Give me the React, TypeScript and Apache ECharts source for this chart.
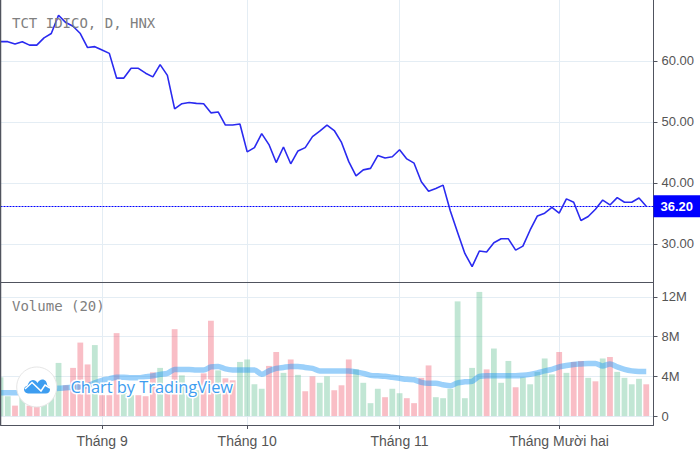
import React, { useEffect, useRef } from "react";
import * as echarts from "echarts";

const categories: string[] = Array.from({ length: 91 }, (_, i) => String(i));
const monthIndex = [14, 34, 55, 77];
const monthLabels = ["Tháng 9", "Tháng 10", "Tháng 11", "Tháng Mười hai"];

const prices = [
  63.17, 63.17, 62.8, 63.17, 62.6, 62.6, 63.8, 64.5, 67.5, 66.3,
  65.7, 64.5, 62.2, 62.35, 61.8, 61.25, 57.2, 57.2, 58.8, 58.8,
  58.0, 57.4, 59.4, 57.65, 52.15, 53.0, 53.2, 53.05, 53.0, 51.5,
  51.65, 49.5, 49.5, 49.67, 45.1, 45.8, 48.1, 46.3, 43.35, 45.9,
  43.15, 45.25, 45.8, 47.6, 48.5, 49.5, 48.6, 46.65, 43.5, 41.15,
  42.15, 42.4, 44.5, 44.1, 44.3, 45.45, 43.95, 43.25, 40.2, 38.65,
  39.1, 39.65, 35.4, 31.9, 28.45, 26.3, 28.85, 28.7, 30.2, 30.85,
  30.85, 29.0, 29.65, 32.3, 34.6, 35.05, 36.0, 35.05, 37.4, 36.85,
  33.85, 34.5, 35.7, 37.2, 36.4, 37.6, 36.85, 36.85, 37.55, 36.2,
];

const lastPrice = 36.2;

const volumes = [
  3.9, 2.0, 1.05, 1.95, 1.05, 0.95, 1.8, 2.6, 5.35, 3.1,
  4.85, 7.4, 5.2, 7.15, 2.1, 2.1, 8.35, 2.3, 2.1, 2.1,
  2.0, 4.4, 4.85, 2.6, 8.75, 4.1, 2.3, 2.6, 4.3, 9.6,
  4.6, 3.8, 3.6, 5.45, 5.7, 3.2, 2.75, 5.05, 6.45, 4.35,
  5.7, 4.15, 2.5, 4.0, 3.35, 4.0, 2.6, 3.1, 5.7, 4.7,
  3.35, 1.3, 2.75, 1.9, 2.75, 2.3, 1.8, 1.3, 3.85, 5.1,
  1.9, 1.8, 2.75, 11.55, 1.8, 4.85, 12.5, 4.7, 6.8, 3.35,
  5.55, 2.9, 3.9, 3.2, 4.45, 5.8, 4.2, 6.45, 4.35, 5.45,
  5.55, 3.85, 3.5, 5.8, 5.95, 4.45, 3.85, 3.2, 3.75, 3.2,
];

const directions = [
  "g","g","p","g","p","p","g","g","g","p","p","p","p","g","p","p","p","g","g","p",
  "p","p","g","p","p","g","g","g","p","p","g","p","p","g","g","g","g","p","p","g",
  "p","g","p","p","g","g","p","p","p","g","g","g","g","p","g","g","p","p","p","p",
  "g","g","g","g","g","g","g","p","g","g","g","p","g","g","g","g","g","p","g","p",
  "p","g","p","g","p","g","g","g","g","p",
];

const volumeMA = [
  2.35, 2.35, 2.35, 2.4, 2.45, 2.5, 2.6, 2.7, 2.8, 2.85,
  2.9, 2.95, 3.05, 3.35, 3.6, 3.75, 3.9, 3.9, 3.85, 3.85,
  3.95, 4.05, 4.2, 4.3, 4.7, 4.7, 4.7, 4.65, 4.65, 4.95,
  5.0, 4.75, 4.65, 4.65, 4.65, 4.65, 4.2, 4.55, 4.8, 4.9,
  5.0, 5.0, 4.9, 4.8, 4.55, 4.55, 4.55, 4.55, 4.55, 4.45,
  4.3, 4.1, 4.05, 4.0, 3.9, 3.8, 3.7, 3.65, 3.4, 3.3,
  3.3, 3.15, 3.05, 3.35, 3.45, 3.5, 4.0, 4.05, 4.05, 4.05,
  4.05, 4.05, 4.1, 4.2, 4.35, 4.55, 4.7, 4.95, 5.1, 5.2,
  5.25, 5.3, 5.3, 5.05, 5.25, 4.95, 4.7, 4.55, 4.5, 4.5,
];

const priceTicks = [30, 40, 50, 60];
const volumeTicks = [0, 4, 8, 12];
const titleText = "TCT IDICO, D, HNX";
const volumeTitle = "Volume (20)";
const watermark = "Chart by TradingView";

const AXIS = "#50535e";
const GRID = "#e4edf4";
const LABEL = "#555";
const isMonth = (i: number) => monthIndex.includes(i);

const cloudPath =
  "M4 14.5C1.8 14.5 0 12.8 0 10.6C0 8.6 1.5 7 3.4 6.8C4.4 3.4 6.4 1 8.8 1C10.8 1 12.4 2.2 13.6 4C14.6 2 16.4 0.6 18.4 0.6C21.2 0.6 23 3 23.2 6.2C25 6.8 26 8.4 26 10.4C26 12.8 24.2 14.5 22 14.5Z";

echarts.graphic.registerShape("tvcloud", echarts.graphic.extendPath(cloudPath, {}) as any);

export default function App() {
  const ref = useRef<HTMLDivElement>(null);
  useEffect(() => {
    if (!ref.current) return;
    const chart = echarts.init(ref.current, undefined, { renderer: "svg" });
    const catAxisCommon = {
      type: "category",
      data: categories,
      boundaryGap: false,
      axisLine: { show: true, onZero: false, lineStyle: { color: AXIS, width: 1 } },
      splitLine: { show: true, interval: (i: number) => isMonth(i), lineStyle: { color: GRID, width: 1 } },
    };
    chart.setOption({
      animation: false,
      backgroundColor: "#fff",
      grid: [
        { left: 0.5, top: 0, width: 653, height: 282, containLabel: false },
        { left: 0.5, top: 283, width: 653, height: 142, containLabel: false },
      ],
      xAxis: [
        {
          ...catAxisCommon,
          gridIndex: 0,
          axisTick: { show: false },
          axisLabel: { show: false },
        },
        {
          ...catAxisCommon,
          gridIndex: 1,
          axisTick: { show: true, length: 4, interval: (i: number) => isMonth(i), lineStyle: { color: AXIS } },
          axisLabel: {
            show: true,
            interval: (i: number) => isMonth(i),
            formatter: (_v: string, i: number) => monthLabels[monthIndex.indexOf(i)] ?? "",
            color: LABEL,
            fontFamily: "Liberation Sans",
            fontSize: 14,
            margin: 9,
          },
        },
      ],
      yAxis: [
        {
          type: "value",
          gridIndex: 0,
          position: "right",
          min: 23.77,
          max: 70,
          axisLine: { show: true, lineStyle: { color: AXIS } },
          axisTick: { show: true, length: 4, customValues: priceTicks, lineStyle: { color: AXIS } },
          axisLabel: {
            customValues: priceTicks,
            formatter: (v: number) => v.toFixed(2),
            color: LABEL,
            fontFamily: "Liberation Sans",
            fontSize: 13,
            margin: 8,
          },
          splitLine: { show: true, lineStyle: { color: GRID, width: 1 } },
        },
        {
          type: "value",
          gridIndex: 1,
          position: "right",
          min: -0.9,
          max: 13.4,
          axisLine: { show: true, lineStyle: { color: AXIS } },
          axisTick: { show: true, length: 4, customValues: volumeTicks, lineStyle: { color: AXIS } },
          axisLabel: {
            customValues: volumeTicks,
            formatter: (v: number) => (v === 0 ? "0" : `${v}M`),
            color: LABEL,
            fontFamily: "Liberation Sans",
            fontSize: 13,
            margin: 8,
          },
          splitLine: { show: true, lineStyle: { color: GRID, width: 1 } },
        },
      ],
      series: [
        {
          type: "line",
          name: "Price",
          xAxisIndex: 0,
          yAxisIndex: 0,
          data: prices,
          showSymbol: false,
          symbol: "none",
          lineStyle: { color: "#2a2af0", width: 1.6 },
          z: 5,
          markLine: {
            silent: true,
            symbol: "none",
            animation: false,
            lineStyle: { color: "#0000ff", type: [2, 1], width: 1.2 },
            label: {
              show: true,
              position: "end",
              distance: 0,
              formatter: () => lastPrice.toFixed(2),
              color: "#fff",
              fontWeight: "bold",
              fontFamily: "Liberation Sans",
              fontSize: 13,
              backgroundColor: "#0000ff",
              padding: [5, 10, 4, 7],
              align: "left",
            },
            data: [{ yAxis: lastPrice }],
          },
        },
        {
          type: "bar",
          name: "Volume",
          xAxisIndex: 1,
          yAxisIndex: 1,
          barWidth: 5.8,
          data: volumes.map((v, i) => ({
            value: v,
            itemStyle: { color: directions[i] === "g" ? "rgba(83,185,135,0.36)" : "rgba(240,80,100,0.37)" },
          })),
          z: 2,
        },
        {
          type: "line",
          name: "Volume MA",
          xAxisIndex: 1,
          yAxisIndex: 1,
          data: volumeMA,
          symbol: "none",
          smooth: 0.3,
          lineStyle: { color: "rgba(33,150,243,0.45)", width: 5.5 },
          z: 3,
        },
      ],
      graphic: [
        { type: "line", z: 10, shape: { x1: 0.5, y1: 0, x2: 0.5, y2: 425 }, style: { stroke: AXIS, lineWidth: 1.5 } },
        { type: "text", z: 10, left: 12, top: 16, style: { text: titleText, fill: "#808080", font: "14px 'DejaVu Sans Mono'" } },
        { type: "text", z: 10, left: 12, top: 299, style: { text: volumeTitle, fill: "#808080", font: "14px 'DejaVu Sans Mono'" } },
        { type: "circle", z: 20, shape: { cx: 36.7, cy: 387, r: 20 }, style: { fill: "#fff", stroke: "#e6e6e6", lineWidth: 1 } },
        { type: "tvcloud", z: 21, x: 24, y: 379, style: { fill: "#3d9df0" } },
        {
          type: "polyline",
          z: 22,
          shape: { points: [[25, 389], [32, 382.5], [41, 391], [45, 385], [50, 388]] },
          style: { stroke: "#fff", fill: "none", lineWidth: 1.5 },
        },
        {
          type: "text",
          z: 20,
          left: 69,
          top: 377,
          style: {
            text: watermark,
            fill: "#3d9df0",
            stroke: "#fff",
            lineWidth: 3,
            font: "16.4px 'Open Sans'",
          },
        },
      ],
    } as any);
    return () => chart.dispose();
  }, []);
  return <div ref={ref} style={{ position: "absolute", left: 0, top: 0, width: 700, height: 454 }} />;
}
